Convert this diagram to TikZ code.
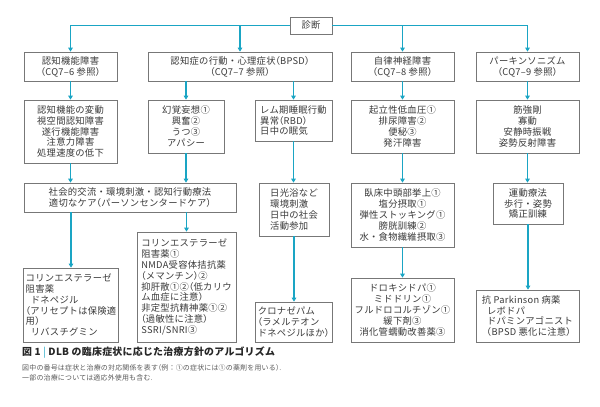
\documentclass[tikz,border=0pt]{standalone}
\usepackage{fontspec}
\setmainfont[LetterSpace=3]{Noto Sans CJK JP}
\newfontface\haltface[RawFeature=+halt]{Noto Sans CJK JP}
\newcommand{\kl}{{\haltface （}}
\newcommand{\kr}{{\haltface ）}}
\newcommand{\ind}{\hspace*{0.55em}}
\usetikzlibrary{arrows.meta}
\definecolor{cy}{HTML}{1AA5C4}
\definecolor{bord}{HTML}{777777}
\definecolor{txt}{HTML}{3A3A3A}
\definecolor{capgray}{HTML}{5A5A5A}
\tikzset{
  bx/.style={draw=bord, line width=0.75pt, inner sep=2pt, text=txt,
    font=\fontsize{9.3}{10.9}\selectfont},
  cbox/.style={bx, align=center},
  lbox/.style={bx, align=left},
  conn/.style={draw=cy, line width=1.2pt, -{Triangle[length=4pt,width=4.6pt]}},
}
\begin{document}
\begin{tikzpicture}[x=1pt,y=-1pt]
\useasboundingbox[fill=white] (0,0) rectangle (600,407);
% top
\node[cbox, minimum width=42pt, minimum height=17pt] (diag) at (311,25.5) {診断};
% row 1
\node[cbox, minimum width=93pt, minimum height=29pt] (r1a) at (70.5,66.5) {認知機能障害\\\kl CQ7–6 参照\kr};
\node[cbox, minimum width=184pt, minimum height=29pt] (r1b) at (240,66.5) {認知症の行動・心理症状\kl BPSD\kr\\\kl CQ7–7 参照\kr};
\node[cbox, minimum width=103pt, minimum height=29pt] (r1c) at (402.5,66.5) {自律神経障害\\\kl CQ7–8 参照\kr};
\node[cbox, minimum width=103pt, minimum height=29pt] (r1d) at (527.5,66.5) {パーキンソニズム\\\kl CQ7–9 参照\kr};
% row 2
\node[cbox, minimum width=93pt, minimum height=63pt] (A) at (70.5,131.5) {認知機能の変動\\視空間認知障害\\遂行機能障害\\注意力障害\\処理速度の低下};
\node[cbox, minimum width=76pt, minimum height=53pt] (B) at (186,126.5) {幻覚妄想①\\興奮②\\うつ③\\アパシー};
\node[lbox, minimum width=77pt, minimum height=41pt] (C) at (293.5,120.5) {レム期睡眠行動\\異常\kl RBD\kr\\日中の眠気};
\node[cbox, minimum width=103pt, minimum height=53pt] (D) at (402.5,126.5) {起立性低血圧①\\排尿障害②\\便秘③\\発汗障害};
\node[cbox, minimum width=103pt, minimum height=53pt] (E) at (527.5,126.5) {筋強剛\\寡動\\安静時振戦\\姿勢反射障害};
% row 3
\node[cbox, minimum width=212pt, minimum height=29pt] (F) at (130,197.5) {社会的交流・環境刺激・認知行動療法\\適切なケア\kl パーソンセンタードケア\kr};
\node[lbox, minimum width=70pt, minimum height=53pt] (G) at (294,209.5) {日光浴など\\環境刺激\\日中の社会\\活動参加};
\node[cbox, minimum width=103pt, minimum height=64pt] (H) at (402.5,215) {臥床中頭部挙上①\\塩分摂取①\\弾性ストッキング①\\膀胱訓練②\\水・食物繊維摂取③};
\node[cbox, minimum width=70pt, minimum height=41pt] (I) at (528,203.5) {運動療法\\歩行・姿勢\\矯正訓練};
% row 4
\node[lbox, minimum width=94pt, minimum height=74pt] (J) at (71,305) {コリンエステラーゼ\\阻害薬\\\ind ドネペジル\\\kl アリセプトは保険適\\用\kr\\\ind リバスチグミン};
\node[lbox, minimum width=99pt, minimum height=110pt] (K) at (186.5,287) {コリンエステラーゼ\\阻害薬①\\NMDA受容体拮抗薬\\\kl メマンチン\kr ②\\抑肝散①②\kl 低カリウ\\ム血症に注意\kr\\非定型抗精神薬①②\\\kl 過敏性に注意\kr\\SSRI/SNRI③};
\node[lbox, minimum width=77pt, minimum height=40pt] (L) at (293.5,322) {クロナゼパム\\\kl ラメルテオン\\ドネペジルほか\kr};
\node[cbox, minimum width=103pt, minimum height=64pt] (M) at (402.5,310) {ドロキシドパ①\\ミドドリン①\\フルドロコルチゾン①\\緩下剤③\\消化管蠕動改善薬③};
\node[lbox, minimum width=103pt, minimum height=52pt] (N) at (527.5,316) {抗 Parkinson 病薬\\\ind レボドパ\\\ind ドパミンアゴニスト\\（BPSD 悪化に注意\kr};
% connectors
\draw[conn] (diag.west) -| (r1a.north);
\draw[conn] (diag.west) -| (r1b.north);
\draw[conn] (diag.east) -| (r1c.north);
\draw[conn] (diag.east) -| (r1d.north);
\draw[conn] (r1a.south) -- (A.north);
\draw[conn] (r1b.south -| B.north) -- (B.north);
\draw[conn] (r1b.south -| C.north) -- (C.north);
\draw[conn] (r1c.south) -- (D.north);
\draw[conn] (r1d.south) -- (E.north);
\draw[conn] (A.south) -- (A.south |- F.north);
\draw[conn] (B.south) -- (B.south |- F.north);
\draw[conn] (C.south) -- (C.south |- G.north);
\draw[conn] (D.south) -- (H.north);
\draw[conn] (E.south) -- (E.south |- I.north);
\draw[conn] (F.south -| J.north) -- (J.north);
\draw[conn] (F.south -| K.north) -- (K.north);
\draw[conn] (G.south) -- (G.south |- L.north);
\draw[conn] (H.south) -- (M.north);
\draw[conn] (I.south) -- (I.south |- N.north);
% caption
\node[anchor=west, inner sep=0pt, text=black!85, font=\fontsize{9.9}{12}\selectfont\bfseries] (cap1) at (22,353) {図 1 {\color{cy}\mdseries |} DLB の臨床症状に応じた治療方針のアルゴリズム};
\node[anchor=west, inner sep=0pt, text=capgray, font=\fontsize{6.95}{8}\selectfont] (cap2) at (22,368) {図中の番号は症状と治療の対応関係を表す\kl 例：①の症状には①の薬剤を用いる\kr .};
\node[anchor=west, inner sep=0pt, text=capgray, font=\fontsize{6.95}{8}\selectfont] (cap3) at (22,377.5) {一部の治療については適応外使用も含む.};
\end{tikzpicture}
\end{document}
